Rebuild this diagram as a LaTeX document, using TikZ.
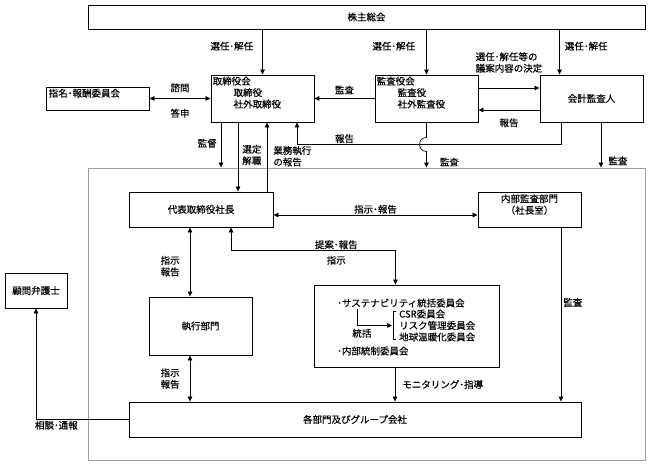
\documentclass[tikz,border=0pt]{standalone}
\usepackage{fontspec}
\setmainfont{Noto Sans CJK JP}[FakeBold=0.4]
\usetikzlibrary{arrows.meta,positioning}

\begin{document}
\begin{tikzpicture}[x=1pt,y=-1pt,
  >={Triangle[length=5pt,width=4.5pt]},
  font=\fontsize{9.5}{11.5}\selectfont,
  box/.style={draw,line width=0.9pt,inner sep=0pt},
  grpbox/.style={draw=black!38,line width=0.9pt,inner sep=0pt},
  lbl/.style={inner sep=1pt,align=left},
  conn/.style={line width=0.7pt}]
\useasboundingbox (0,0) rectangle (648,465);

\node[grpbox,minimum width=557pt,minimum height=292pt] (grp) at (366.5,314) {};
\node[box,minimum width=557pt,minimum height=24pt] (gm) at (366.5,17) {株主総会};
\node[box,minimum width=103pt,minimum height=23pt] (nomi) at (97.5,98.5) {};
\node[lbl,anchor=north west] (nomitxt) at ([shift={(2pt,-1pt)}]nomi.north west) {指名･報酬委員会};
\node[box,minimum width=103pt,minimum height=47pt] (board) at (262.5,98.5) {};
\node[lbl,anchor=north west] (boardtxt) at ([shift={(1pt,-1pt)}]board.north west) {取締役会\\\hspace*{2.2em}取締役\\\hspace*{2.2em}社外取締役};
\node[box,minimum width=103pt,minimum height=47pt] (kansa) at (426.5,98.5) {};
\node[lbl,anchor=north west] (kansatxt) at ([shift={(1pt,-1pt)}]kansa.north west) {監査役会\\\hspace*{2.2em}監査役\\\hspace*{2.2em}社外監査役};
\node[box,minimum width=103pt,minimum height=47pt] (auditor) at (591.5,98.5) {会計監査人};
\node[box,minimum width=144pt,minimum height=35pt] (pres) at (201,209.5) {代表取締役社長};
\node[box,minimum width=103pt,minimum height=35pt] (audit) at (529.5,209.5) {};
\node[lbl,align=center] (audittxt) at ([yshift=5pt]audit.center) {内部監査部門\\（社長室）};
\node[box,minimum width=103pt,minimum height=58pt] (exec) at (200.5,326) {執行部門};
\node[box,minimum width=185pt,minimum height=82pt] (sust) at (406.5,326) {};
\node[box,minimum width=452pt,minimum height=35pt] (dept) at (355,419.5) {各部門及びグループ会社};
\node[box,minimum width=62pt,minimum height=35pt] (lawyer) at (36,290.5) {顧問弁護士};

\node[lbl,anchor=west] (sustcom) at (336,303) {･サステナビリティ統括委員会};
\node[lbl,anchor=west] (subcom) at (398,325.5) {CSR委員会\\リスク管理委員会\\地球温暖化委員会};
\node[lbl,anchor=west] (ctrlcom) at (336,351) {･内部統制委員会};
\draw[line width=0.6pt] ([shift={(-2pt,-3pt)}]subcom.north west) -- ([shift={(-5pt,-3pt)}]subcom.north west)
  -- ([shift={(-5pt,3pt)}]subcom.south west) -- ([shift={(-2pt,3pt)}]subcom.south west);
\draw[->,conn] ([xshift=21pt]sustcom.south west) |- node[lbl,below=2pt,pos=0.57]{統括} ([xshift=-6pt]subcom.west);

\path[->,conn]
(board.north |- gm.south) edge node[lbl,left=8pt,pos=0.37]{選任･解任} (board.north)
(kansa.north |- gm.south) edge node[lbl,left=10pt,pos=0.37]{選任･解任} (kansa.north)
([xshift=-32pt]auditor.north |- gm.south) edge node[lbl,right=4pt,pos=0.37]{選任･解任} ([xshift=-32pt]auditor.north)
([yshift=10.5pt]kansa.east) edge node[lbl,above=14pt]{選任･解任等の\\議案内容の決定} ([yshift=10.5pt]auditor.west)
([yshift=-11.5pt]auditor.west) edge node[lbl,below=7pt]{報告} ([yshift=-11.5pt]kansa.east)
(kansa.west) edge node[lbl,above=3pt]{監査} (board.east)
([xshift=-41.5pt]board.south) edge node[lbl,left=3pt,pos=0.46]{監督} ([xshift=-41.5pt]board.south |- grp.north)
([xshift=37pt]pres.north |- board.south) edge node[lbl,right=3pt,pos=0.47]{選定\\解職} ([xshift=37pt]pres.north)
([xshift=66pt]pres.north) edge node[lbl,right=5pt,pos=0.51]{業務執行\\の報告} ([xshift=66pt]pres.north |- board.south)
([xshift=9.5pt]auditor.south) edge node[lbl,right=6pt,pos=0.85]{監査} ([xshift=9.5pt]auditor.south |- grp.north)
([xshift=-11.5pt]sust.south) edge node[lbl,right=6pt]{モニタリング･指導} ([xshift=-11.5pt]sust.south |- dept.north)
([xshift=31.5pt]audit.south) edge node[lbl,right=1pt,pos=0.43]{監査} ([xshift=31.5pt]audit.south |- dept.north)
;
\path[<->,conn]
(nomi.east) edge node[lbl,above=5pt]{諮問} node[lbl,below=9pt]{答申} (board.west)
([yshift=-5.5pt]pres.east) edge node[lbl,above=0pt]{指示･報告} ([yshift=-5.5pt]audit.west)
([xshift=-10.5pt]exec.north) edge node[lbl,left=9pt,pos=0.44]{指示\\報告} ([xshift=-10.5pt]exec.north |- pres.south)
([xshift=-10.5pt]exec.south) edge node[lbl,left=9pt]{指示\\報告} ([xshift=-10.5pt]exec.south |- dept.north)
;
\draw[->,conn] ([xshift=-30.5pt]auditor.south) -- ++(0,22) -| node[lbl,above=0pt,pos=0.41]{報告} ([xshift=34.5pt]board.south);
\draw[->,conn] (kansa.south) -- ++(0,15) .. controls +(-9.3,0) and +(-9.3,0) .. ++(0,14)
  -- node[lbl,right=12pt,pos=0.65]{監査} (kansa.south |- grp.north);
\draw[<->,conn] ([xshift=30pt]pres.south) -- ++(0,23) -| node[lbl,above=0pt,pos=0.32]{提案･報告}
  node[lbl,below=4pt,pos=0.32]{指示} ([xshift=-11pt]sust.north);
\draw[->,conn] (dept.west) -| node[lbl,below=0pt,pos=0.39]{相談･通報} (lawyer.south);
\end{tikzpicture}
\end{document}
